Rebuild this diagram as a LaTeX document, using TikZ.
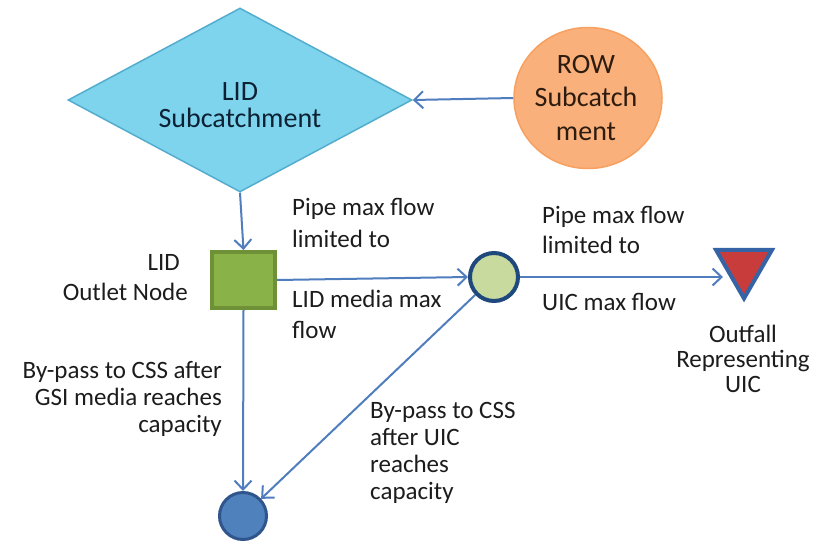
\documentclass[tikz,border=0pt]{standalone}
\usepackage{fontspec}
\setmainfont{Carlito}
\usetikzlibrary{shapes.geometric,arrows.meta}

\definecolor{lidfill}{RGB}{126,211,237}
\definecolor{lidline}{RGB}{84,172,206}
\definecolor{rowfill}{RGB}{250,176,122}
\definecolor{rowline}{RGB}{247,160,96}
\definecolor{sqfill}{RGB}{137,178,72}
\definecolor{sqline}{RGB}{110,145,56}
\definecolor{uicfill}{RGB}{200,218,158}
\definecolor{uicline}{RGB}{31,73,125}
\definecolor{trifill}{RGB}{200,60,60}
\definecolor{triline}{RGB}{52,100,165}
\definecolor{cssfill}{RGB}{79,129,189}
\definecolor{cssline}{RGB}{47,85,140}
\definecolor{flowline}{RGB}{79,125,190}
\definecolor{labeltext}{RGB}{28,28,28}
\definecolor{lidtext}{RGB}{12,34,52}
\definecolor{rowtext}{RGB}{45,28,15}

\tikzset{
  flow/.style={draw=flowline, line width=2pt,
    -{Straight Barb[length=9pt,width=17pt]}},
  lbl/.style={inner sep=0pt, text=labeltext},
  small/.style={font=\fontsize{25}{#1}\selectfont},
}

\begin{document}
\begin{tikzpicture}[x=1pt,y=-1pt]
\useasboundingbox (0,0) rectangle (825,541);

% shapes
\node[diamond, draw=lidline, fill=lidfill, line width=1.5pt, inner sep=0pt,
      minimum width=344pt, minimum height=184pt] (lid) at (240,100) {};
\node[ellipse, draw=rowline, fill=rowfill, line width=1.5pt, inner sep=0pt,
      minimum width=148pt, minimum height=141pt] (row) at (588,98) {};
\node[rectangle, draw=sqline, fill=sqfill, line width=4pt, inner sep=0pt,
      minimum width=63pt, minimum height=56pt] (outlet) at (243.5,280) {};
\node[circle, draw=uicline, fill=uicfill, line width=4pt, inner sep=0pt,
      minimum size=48pt] (uic) at (494,277) {};
\node[regular polygon, regular polygon sides=3, shape border rotate=180,
      draw=triline, fill=trifill, line width=4pt, inner sep=0pt,
      minimum size=64.7pt] (tri) at (744,266) {};
\node[circle, draw=cssline, fill=cssfill, line width=3pt, inner sep=0pt,
      minimum size=47pt] (css) at (243,516) {};

% texts inside shapes (base = baseline of the last line)
\node[inner sep=0pt, anchor=base, align=center, text=lidtext,
      font=\fontsize{28}{27}\selectfont] (lidtxt) at (240,127) {LID\\Subcatchment};
\node[inner sep=0pt, anchor=base, align=center, text=rowtext,
      font=\fontsize{28}{33.5}\selectfont] (rowtxt) at (586,140) {ROW\\Subcatch\\ment};

% connectors
\draw[flow] (row.west) -- (lid.east);
\draw[flow] (lid.south) -- (outlet.north);
\draw[flow] (outlet.east) -- (uic.west);
\draw[flow] (uic.east) -- (uic.east -| tri.west);
\draw[flow] (outlet.south) -- (css.north);
\draw[flow] (uic) -- (css);

% labels
\node[lbl, small=32, anchor=base west, align=left] (pipe1) at (292,247)
  {Pipe max flow\\limited to};
\node[lbl, small=31, anchor=base west, align=left] (media) at (292,338)
  {LID media max\\flow};
\node[lbl, small=30, anchor=base west, align=left] (pipe2) at (542,253)
  {Pipe max flow\\limited to};
\node[lbl, small=30, anchor=base west] (uicmax) at (542,310) {UIC max flow};
\node[lbl, small=30, anchor=base east, align=right] (outlettxt) at (188,300)
  {LID\kern8pt\\Outlet Node};
\node[lbl, font=\fontsize{25}{25}\selectfont, anchor=base, align=center]
  (outfall) at (743,392) {Outfall\\Representing\\UIC};
\node[lbl, small=27, anchor=base east, align=right] (bypass1) at (222,432)
  {By-pass to CSS after\\GSI media reaches\\capacity};
\node[lbl, small=27, anchor=base west, align=left] (bypass2) at (370,499)
  {By-pass to CSS\\after UIC\\reaches\\capacity};
\end{tikzpicture}
\end{document}
